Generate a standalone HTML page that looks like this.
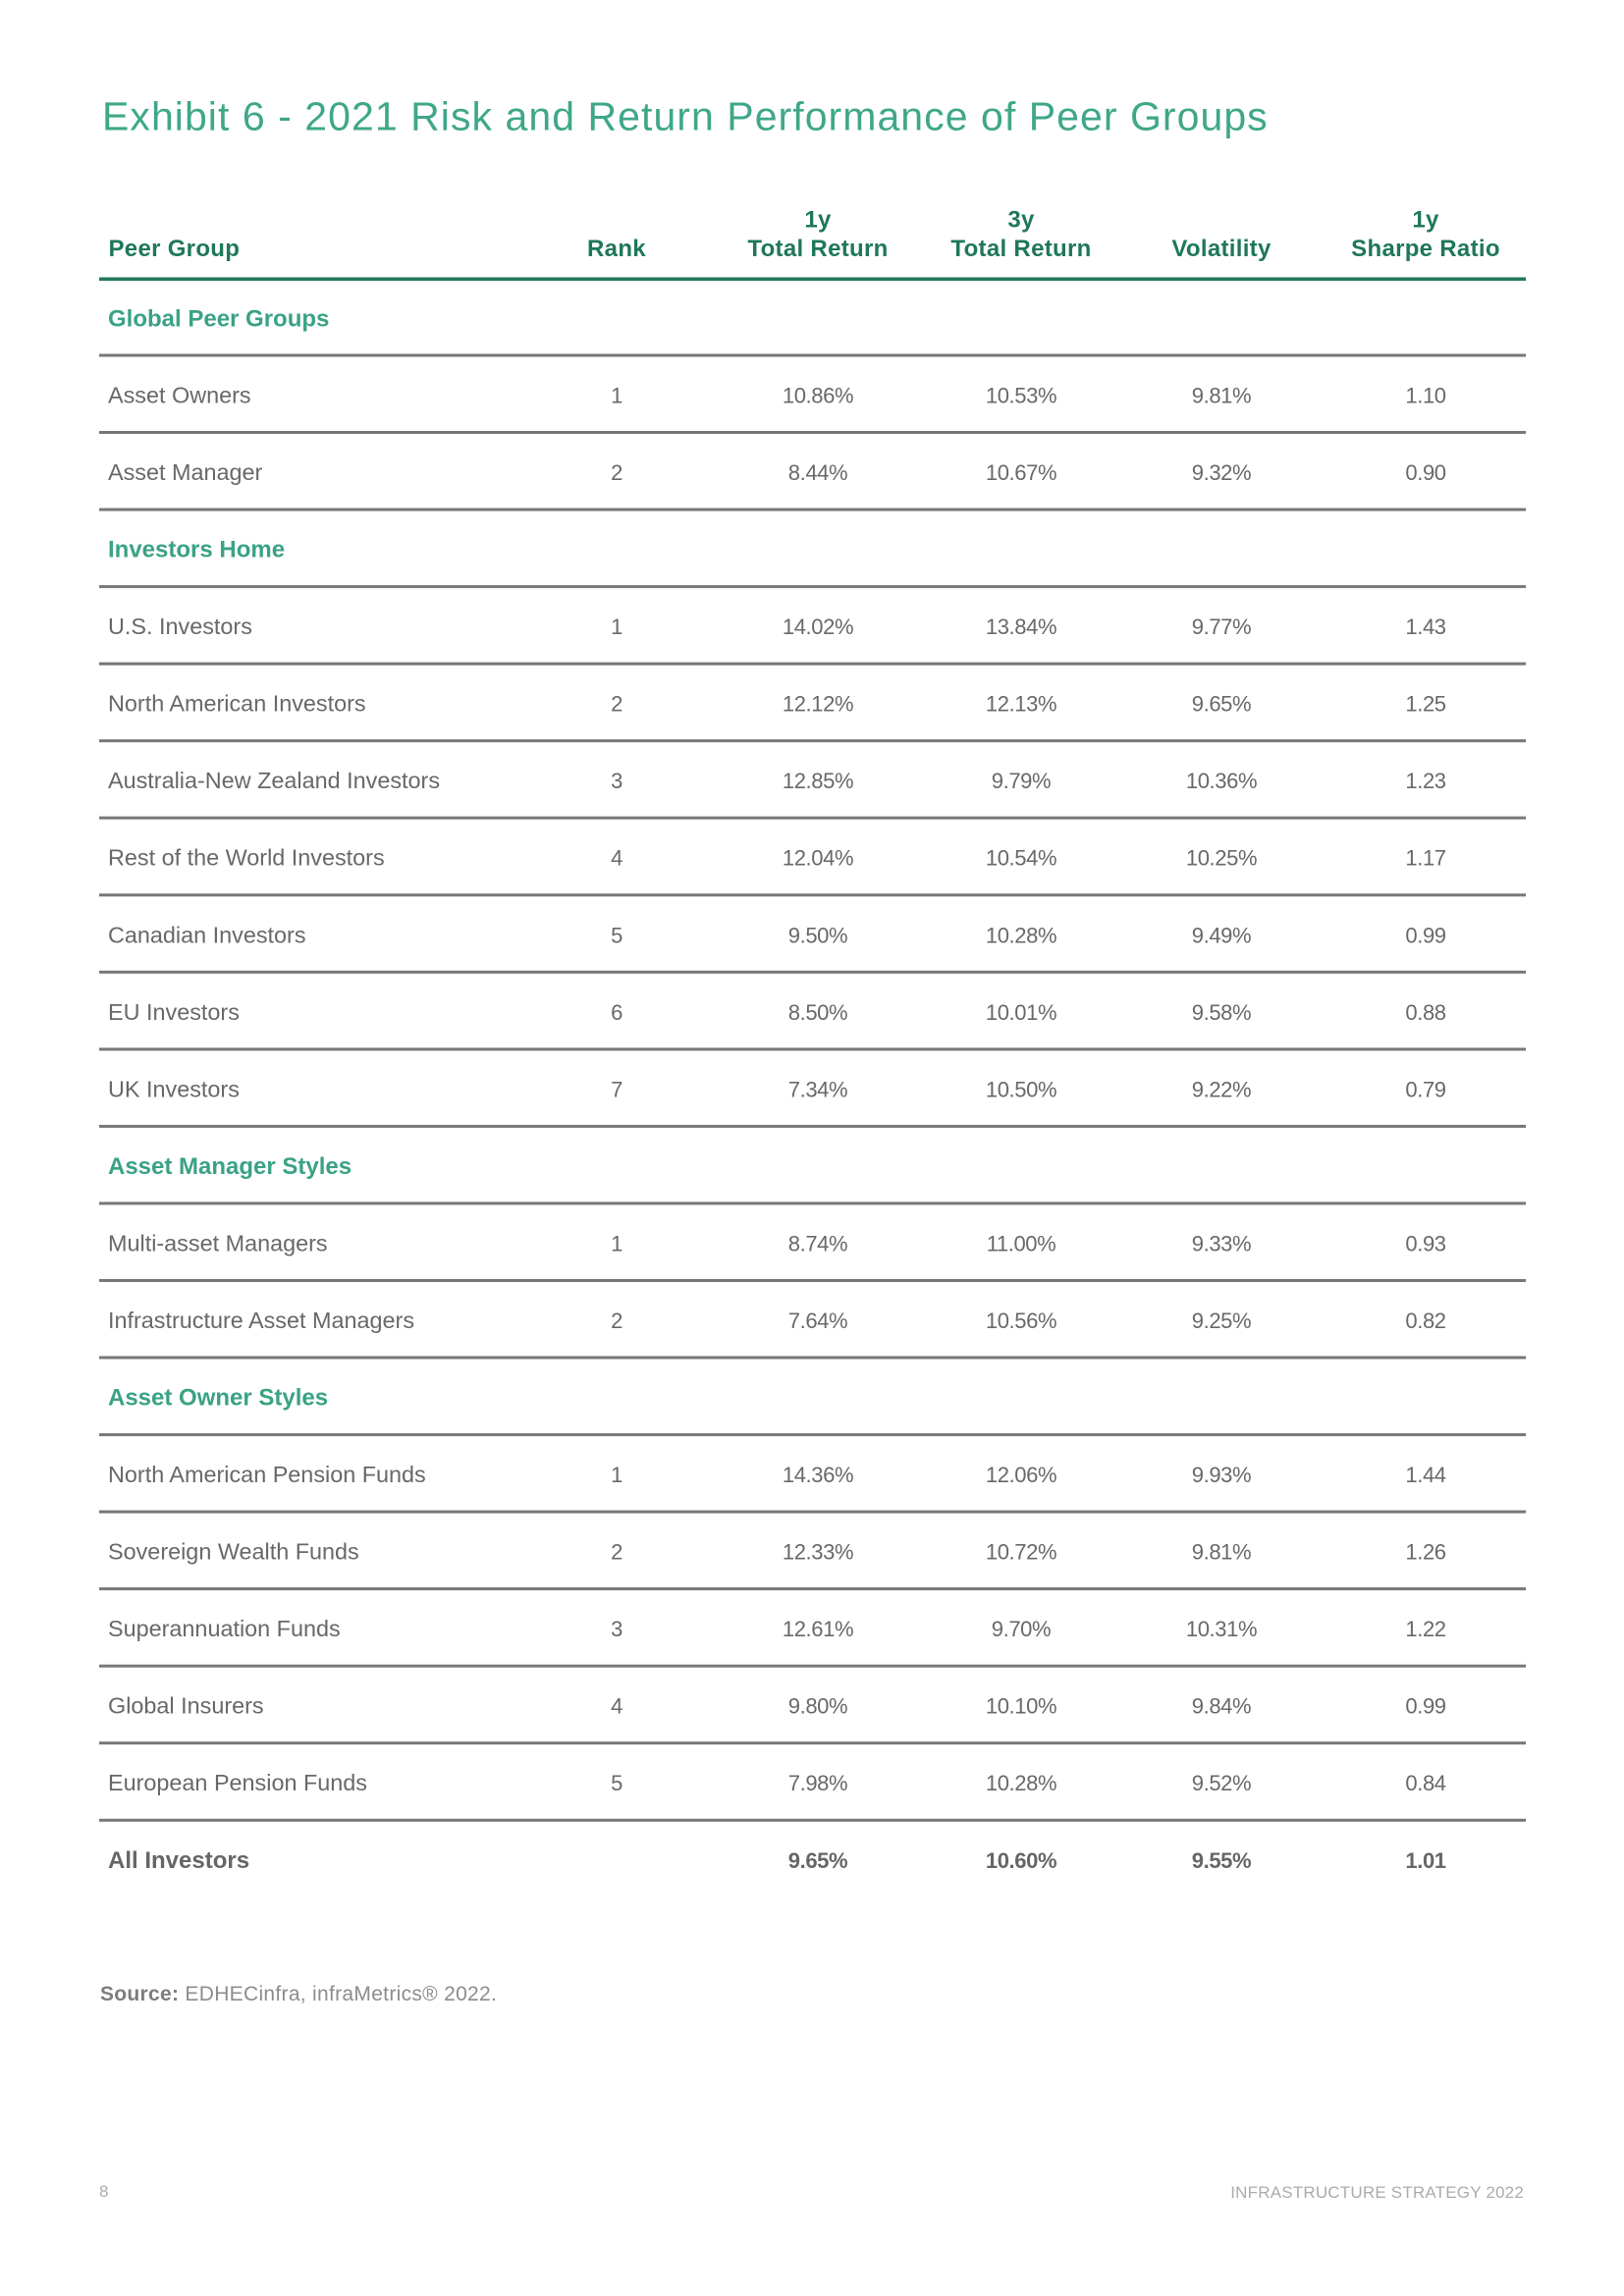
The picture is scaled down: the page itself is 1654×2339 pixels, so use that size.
<!DOCTYPE html>
<html>
<head>
<meta charset="utf-8">
<style>
html,body{margin:0;padding:0;background:#fff;}
svg{display:block;}
.t{font-family:"Liberation Sans",sans-serif;}
.title{font-size:41px;fill:#3fa789;letter-spacing:1.05px;}
.hd{font-size:24px;font-weight:bold;fill:#1f775b;letter-spacing:0.3px;}
.sec{font-size:24px;font-weight:bold;fill:#3aa284;}
.lab{font-size:23.4px;fill:#686868;}
.num{font-size:22px;fill:#686868;letter-spacing:-0.4px;}
.bl{font-size:24px;font-weight:bold;fill:#666;}
.bn{font-size:22px;font-weight:bold;fill:#666;letter-spacing:-0.4px;}
.src{font-size:21px;fill:#8c8c8c;letter-spacing:0.3px;}
.ft{font-size:17px;fill:#ababab;letter-spacing:0.2px;}
</style>
</head>
<body>
<svg width="1654" height="2339" viewBox="0 0 1654 2339" xmlns="http://www.w3.org/2000/svg">
<rect width="1654" height="2339" fill="#fff"/>
<g class="t">
<text class="title" x="104" y="132.7">Exhibit 6 - 2021 Risk and Return Performance of Peer Groups</text>

<text class="hd" x="110.5" y="261">Peer Group</text>
<text class="hd" x="628" y="261" text-anchor="middle">Rank</text>
<text class="hd" x="833" y="231.5" text-anchor="middle">1y</text>
<text class="hd" x="833" y="261" text-anchor="middle">Total Return</text>
<text class="hd" x="1040" y="231.5" text-anchor="middle">3y</text>
<text class="hd" x="1040" y="261" text-anchor="middle">Total Return</text>
<text class="hd" x="1244" y="261" text-anchor="middle">Volatility</text>
<text class="hd" x="1452" y="231.5" text-anchor="middle">1y</text>
<text class="hd" x="1452" y="261" text-anchor="middle">Sharpe Ratio</text>

<rect x="101" y="282.5" width="1453" height="3.5" fill="#23785c"/>

<g fill="#777">
<rect x="101" y="360.5" width="1453" height="3"/>
<rect x="101" y="439" width="1453" height="3"/>
<rect x="101" y="517.6" width="1453" height="3"/>
<rect x="101" y="596.1" width="1453" height="3"/>
<rect x="101" y="674.7" width="1453" height="3"/>
<rect x="101" y="753.2" width="1453" height="3"/>
<rect x="101" y="831.7" width="1453" height="3"/>
<rect x="101" y="910.3" width="1453" height="3"/>
<rect x="101" y="988.8" width="1453" height="3"/>
<rect x="101" y="1067.4" width="1453" height="3"/>
<rect x="101" y="1145.9" width="1453" height="3"/>
<rect x="101" y="1224.4" width="1453" height="3"/>
<rect x="101" y="1303" width="1453" height="3"/>
<rect x="101" y="1381.5" width="1453" height="3"/>
<rect x="101" y="1460.1" width="1453" height="3"/>
<rect x="101" y="1538.6" width="1453" height="3"/>
<rect x="101" y="1617.1" width="1453" height="3"/>
<rect x="101" y="1695.7" width="1453" height="3"/>
<rect x="101" y="1774.2" width="1453" height="3"/>
<rect x="101" y="1852.8" width="1453" height="3"/>
</g>

<text class="sec" x="110" y="332.7">Global Peer Groups</text>

<text class="lab" x="110" y="410.5">Asset Owners</text>
<text class="num" x="628" y="410.5" text-anchor="middle">1</text>
<text class="num" x="833" y="410.5" text-anchor="middle">10.86%</text>
<text class="num" x="1040" y="410.5" text-anchor="middle">10.53%</text>
<text class="num" x="1244" y="410.5" text-anchor="middle">9.81%</text>
<text class="num" x="1452" y="410.5" text-anchor="middle">1.10</text>

<text class="lab" x="110" y="489">Asset Manager</text>
<text class="num" x="628" y="489" text-anchor="middle">2</text>
<text class="num" x="833" y="489" text-anchor="middle">8.44%</text>
<text class="num" x="1040" y="489" text-anchor="middle">10.67%</text>
<text class="num" x="1244" y="489" text-anchor="middle">9.32%</text>
<text class="num" x="1452" y="489" text-anchor="middle">0.90</text>

<text class="sec" x="110" y="567.6">Investors Home</text>

<text class="lab" x="110" y="646.1">U.S. Investors</text>
<text class="num" x="628" y="646.1" text-anchor="middle">1</text>
<text class="num" x="833" y="646.1" text-anchor="middle">14.02%</text>
<text class="num" x="1040" y="646.1" text-anchor="middle">13.84%</text>
<text class="num" x="1244" y="646.1" text-anchor="middle">9.77%</text>
<text class="num" x="1452" y="646.1" text-anchor="middle">1.43</text>

<text class="lab" x="110" y="724.7">North American Investors</text>
<text class="num" x="628" y="724.7" text-anchor="middle">2</text>
<text class="num" x="833" y="724.7" text-anchor="middle">12.12%</text>
<text class="num" x="1040" y="724.7" text-anchor="middle">12.13%</text>
<text class="num" x="1244" y="724.7" text-anchor="middle">9.65%</text>
<text class="num" x="1452" y="724.7" text-anchor="middle">1.25</text>

<text class="lab" x="110" y="803.2">Australia-New Zealand Investors</text>
<text class="num" x="628" y="803.2" text-anchor="middle">3</text>
<text class="num" x="833" y="803.2" text-anchor="middle">12.85%</text>
<text class="num" x="1040" y="803.2" text-anchor="middle">9.79%</text>
<text class="num" x="1244" y="803.2" text-anchor="middle">10.36%</text>
<text class="num" x="1452" y="803.2" text-anchor="middle">1.23</text>

<text class="lab" x="110" y="881.7">Rest of the World Investors</text>
<text class="num" x="628" y="881.7" text-anchor="middle">4</text>
<text class="num" x="833" y="881.7" text-anchor="middle">12.04%</text>
<text class="num" x="1040" y="881.7" text-anchor="middle">10.54%</text>
<text class="num" x="1244" y="881.7" text-anchor="middle">10.25%</text>
<text class="num" x="1452" y="881.7" text-anchor="middle">1.17</text>

<text class="lab" x="110" y="960.3">Canadian Investors</text>
<text class="num" x="628" y="960.3" text-anchor="middle">5</text>
<text class="num" x="833" y="960.3" text-anchor="middle">9.50%</text>
<text class="num" x="1040" y="960.3" text-anchor="middle">10.28%</text>
<text class="num" x="1244" y="960.3" text-anchor="middle">9.49%</text>
<text class="num" x="1452" y="960.3" text-anchor="middle">0.99</text>

<text class="lab" x="110" y="1038.8">EU Investors</text>
<text class="num" x="628" y="1038.8" text-anchor="middle">6</text>
<text class="num" x="833" y="1038.8" text-anchor="middle">8.50%</text>
<text class="num" x="1040" y="1038.8" text-anchor="middle">10.01%</text>
<text class="num" x="1244" y="1038.8" text-anchor="middle">9.58%</text>
<text class="num" x="1452" y="1038.8" text-anchor="middle">0.88</text>

<text class="lab" x="110" y="1117.4">UK Investors</text>
<text class="num" x="628" y="1117.4" text-anchor="middle">7</text>
<text class="num" x="833" y="1117.4" text-anchor="middle">7.34%</text>
<text class="num" x="1040" y="1117.4" text-anchor="middle">10.50%</text>
<text class="num" x="1244" y="1117.4" text-anchor="middle">9.22%</text>
<text class="num" x="1452" y="1117.4" text-anchor="middle">0.79</text>

<text class="sec" x="110" y="1195.9">Asset Manager Styles</text>

<text class="lab" x="110" y="1274.4">Multi-asset Managers</text>
<text class="num" x="628" y="1274.4" text-anchor="middle">1</text>
<text class="num" x="833" y="1274.4" text-anchor="middle">8.74%</text>
<text class="num" x="1040" y="1274.4" text-anchor="middle">11.00%</text>
<text class="num" x="1244" y="1274.4" text-anchor="middle">9.33%</text>
<text class="num" x="1452" y="1274.4" text-anchor="middle">0.93</text>

<text class="lab" x="110" y="1353">Infrastructure Asset Managers</text>
<text class="num" x="628" y="1353" text-anchor="middle">2</text>
<text class="num" x="833" y="1353" text-anchor="middle">7.64%</text>
<text class="num" x="1040" y="1353" text-anchor="middle">10.56%</text>
<text class="num" x="1244" y="1353" text-anchor="middle">9.25%</text>
<text class="num" x="1452" y="1353" text-anchor="middle">0.82</text>

<text class="sec" x="110" y="1431.5">Asset Owner Styles</text>

<text class="lab" x="110" y="1510.1">North American Pension Funds</text>
<text class="num" x="628" y="1510.1" text-anchor="middle">1</text>
<text class="num" x="833" y="1510.1" text-anchor="middle">14.36%</text>
<text class="num" x="1040" y="1510.1" text-anchor="middle">12.06%</text>
<text class="num" x="1244" y="1510.1" text-anchor="middle">9.93%</text>
<text class="num" x="1452" y="1510.1" text-anchor="middle">1.44</text>

<text class="lab" x="110" y="1588.6">Sovereign Wealth Funds</text>
<text class="num" x="628" y="1588.6" text-anchor="middle">2</text>
<text class="num" x="833" y="1588.6" text-anchor="middle">12.33%</text>
<text class="num" x="1040" y="1588.6" text-anchor="middle">10.72%</text>
<text class="num" x="1244" y="1588.6" text-anchor="middle">9.81%</text>
<text class="num" x="1452" y="1588.6" text-anchor="middle">1.26</text>

<text class="lab" x="110" y="1667.1">Superannuation Funds</text>
<text class="num" x="628" y="1667.1" text-anchor="middle">3</text>
<text class="num" x="833" y="1667.1" text-anchor="middle">12.61%</text>
<text class="num" x="1040" y="1667.1" text-anchor="middle">9.70%</text>
<text class="num" x="1244" y="1667.1" text-anchor="middle">10.31%</text>
<text class="num" x="1452" y="1667.1" text-anchor="middle">1.22</text>

<text class="lab" x="110" y="1745.7">Global Insurers</text>
<text class="num" x="628" y="1745.7" text-anchor="middle">4</text>
<text class="num" x="833" y="1745.7" text-anchor="middle">9.80%</text>
<text class="num" x="1040" y="1745.7" text-anchor="middle">10.10%</text>
<text class="num" x="1244" y="1745.7" text-anchor="middle">9.84%</text>
<text class="num" x="1452" y="1745.7" text-anchor="middle">0.99</text>

<text class="lab" x="110" y="1824.2">European Pension Funds</text>
<text class="num" x="628" y="1824.2" text-anchor="middle">5</text>
<text class="num" x="833" y="1824.2" text-anchor="middle">7.98%</text>
<text class="num" x="1040" y="1824.2" text-anchor="middle">10.28%</text>
<text class="num" x="1244" y="1824.2" text-anchor="middle">9.52%</text>
<text class="num" x="1452" y="1824.2" text-anchor="middle">0.84</text>

<text class="bl" x="110" y="1902.8">All Investors</text>
<text class="bn" x="833" y="1902.8" text-anchor="middle">9.65%</text>
<text class="bn" x="1040" y="1902.8" text-anchor="middle">10.60%</text>
<text class="bn" x="1244" y="1902.8" text-anchor="middle">9.55%</text>
<text class="bn" x="1452" y="1902.8" text-anchor="middle">1.01</text>

<text class="src" x="102" y="2038"><tspan font-weight="bold" fill="#7d7d7d">Source:</tspan> EDHECinfra, infraMetrics® 2022.</text>

<text class="ft" x="101" y="2238">8</text>
<text class="ft" x="1552" y="2239" text-anchor="end">INFRASTRUCTURE STRATEGY 2022</text>
</g>
</svg>
</body>
</html>
